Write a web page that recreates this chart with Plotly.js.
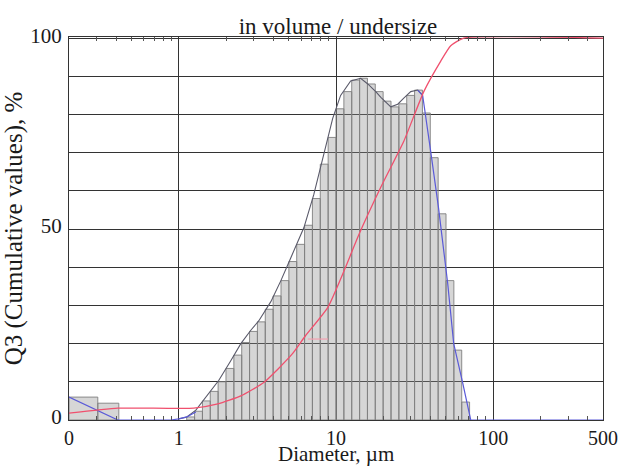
<!DOCTYPE html>
<html>
<head>
<meta charset="utf-8">
<script src="https://cdn.plot.ly/plotly-3.0.1.min.js"></script>
<style>html,body{margin:0;padding:0;background:#fff;}#chart{width:633px;height:468px;}</style>
</head>
<body>
<div id="chart"></div>
<script>
// Histogram bin edges (µm) and bar heights (%)
const binLow  = [0.2, 0.305, 1.122, 1.259, 1.413, 1.585, 1.778, 1.995, 2.239, 2.512, 2.818, 3.162, 3.548, 3.981, 4.467, 5.012, 5.623, 6.310, 7.079, 7.943, 8.913, 10.00, 11.22, 12.59, 14.13, 15.85, 17.78, 19.95, 22.39, 25.12, 28.18, 31.62, 35.48, 39.81, 44.67, 50.12, 56.23, 63.10];
const binHigh = [0.305, 0.415, 1.259, 1.413, 1.585, 1.778, 1.995, 2.239, 2.512, 2.818, 3.162, 3.548, 3.981, 4.467, 5.012, 5.623, 6.310, 7.079, 7.943, 8.913, 10.00, 11.22, 12.59, 14.13, 15.85, 17.78, 19.95, 22.39, 25.12, 28.18, 31.62, 35.48, 39.81, 44.67, 50.12, 56.23, 63.10, 70.79];
const binHeight = [6.0, 4.4, 0.8, 2.3, 5.0, 7.5, 10.0, 13.5, 17.0, 20.3, 23.2, 25.7, 29.0, 32.5, 36.5, 41.5, 46.0, 51.0, 58.0, 67.0, 74.0, 81.5, 86.0, 89.0, 89.5, 88.0, 86.0, 83.5, 82.0, 82.8, 85.0, 86.4, 80.4, 68.7, 54.0, 36.5, 18.3, 4.7];

// Density outline (gray part)
const grayX = [1.0, 1.124, 1.283, 1.485, 1.797, 2.14, 2.48, 2.87, 3.23, 3.85, 4.46, 5.16, 6.25, 7.22, 8.37, 9.53, 10.7, 12.4, 14.35, 15.93, 17.9, 19.3, 22.3, 24.7, 27.0, 29.9, 33.1, 35.6];
const grayY = [0.3, 0.8, 2.6, 6.0, 10.4, 15.5, 20.0, 23.5, 26.0, 31.0, 36.5, 42.5, 50.4, 59.0, 70.0, 79.0, 85.0, 88.8, 89.5, 88.0, 86.0, 84.5, 82.0, 82.7, 84.3, 86.0, 86.4, 85.0];

// Density outline (blue parts)
const blueLeftX = [0.2, 0.409, 0.889, 1.0, 1.124, 1.283];
const blueLeftY = [6.0, 0.0, 0.0, 0.3, 0.8, 2.1];
const blueRightX = [33.1, 35.6, 40.0, 44.9, 51.3, 56.1, 64.0, 72.0, 500];
const blueRightY = [86.4, 85.0, 70.5, 55.6, 36.0, 20.0, 9.7, 0.0, 0.0];

// Cumulative Q3 (red)
const cumX = [0.2, 0.409, 1.246, 1.77, 2.48, 3.47, 4.31, 5.27, 6.38, 8.87, 11.5, 13.97, 19.3, 27.0, 36.2, 46.4, 53.7, 65.0, 500];
const cumY = [1.8, 3.1, 3.1, 4.2, 6.3, 9.8, 13.5, 17.3, 22.0, 29.5, 40.0, 48.5, 61.0, 73.0, 86.0, 94.0, 98.0, 100.0, 100.0];

// small horizontal marker segment on red curve
const markX = [6.62, 8.9];
const markY = [21.2, 21.2];

const xTickVals = [0.2, 1, 10, 100, 500];
const xTickText = ['0', '1', '10', '100', '500'];
const xMinorVals = [0.3,0.4,0.5,0.6,0.7,0.8,0.9,2,3,4,5,6,7,8,9,20,30,40,50,60,70,80,90,200,300,400];
const yTickVals = [0,10,20,30,40,50,60,70,80,90,100];
const yTickText = ['0','','','','','50','','','','','100'];

// build bar polygons
const bx = [], by = [];
for (let i = 0; i < binLow.length; i++) {
  bx.push(binLow[i], binLow[i], binHigh[i], binHigh[i], binLow[i], null);
  by.push(0, binHeight[i], binHeight[i], 0, 0, null);
}

const traces = [
  {x: bx, y: by, type: 'scatter', mode: 'lines', fill: 'toself',
   fillcolor: 'rgba(140,140,140,0.36)', line: {color: '#808080', width: 0.9},
   connectgaps: false, hoverinfo: 'skip'},
  {x: grayX, y: grayY, type: 'scatter', mode: 'lines', line: {color: '#5a5a6a', width: 1.1}},
  {x: blueLeftX, y: blueLeftY, type: 'scatter', mode: 'lines', line: {color: '#5a5ad8', width: 1.2}},
  {x: blueRightX, y: blueRightY, type: 'scatter', mode: 'lines', line: {color: '#5a5ad8', width: 1.2}},
  {x: markX, y: markY, type: 'scatter', mode: 'lines', line: {color: '#f4a0b0', width: 1.2}},
  {x: cumX, y: cumY, type: 'scatter', mode: 'lines', line: {color: '#f0506e', width: 1.3, shape: 'spline', smoothing: 0.5}}
];

const serif = 'Liberation Serif, Times New Roman, serif';
const layout = {
  width: 633, height: 468,
  margin: {l: 69, r: 30, t: 37, b: 48},
  paper_bgcolor: '#fff', plot_bgcolor: '#fff',
  showlegend: false,
  font: {family: serif, size: 21, color: '#1a1a1a'},
  title: {text: 'in volume / undersize', font: {family: serif, size: 23, color: '#1a1a1a'},
          x: 0.534, xref: 'container', xanchor: 'center', y: 0.945, yref: 'container', yanchor: 'middle'},
  xaxis: {
    type: 'log', range: [Math.log10(0.2), Math.log10(500)],
    tickmode: 'array', tickvals: xTickVals, ticktext: xTickText,
    showgrid: true, gridcolor: '#333', gridwidth: 1,
    showline: true, linecolor: '#333', linewidth: 1, mirror: 'ticks',
    ticks: 'inside', ticklen: 0, tickcolor: '#333',
    minor: {tickmode: 'array', tickvals: xMinorVals, ticks: 'inside', ticklen: 4, tickcolor: '#555', tickwidth: 1, showgrid: false},
    zeroline: false, fixedrange: true,
    tickfont: {family: serif, size: 20, color: '#1a1a1a'}
  },
  yaxis: {
    range: [0, 100.3], tickmode: 'array', tickvals: yTickVals, ticktext: yTickText,
    showgrid: true, gridcolor: '#333', gridwidth: 1,
    showline: true, linecolor: '#333', linewidth: 1, mirror: true,
    ticks: '', zeroline: false, fixedrange: true,
    ticklabelshift: -3, ticklabelstandoff: 2,
    tickfont: {family: serif, size: 21, color: '#1a1a1a'},
    title: {text: 'Q3 (Cumulative values), %', font: {family: serif, size: 25, color: '#1a1a1a'}, standoff: 0}
  },
  annotations: [
    {text: 'Diameter, µm', xref: 'paper', yref: 'paper', x: 0.5, y: -0.1253, xanchor: 'center', yanchor: 'bottom',
     showarrow: false, font: {family: serif, size: 21, color: '#1a1a1a'}}
  ]
};

Plotly.newPlot('chart', traces, layout, {staticPlot: true});
</script>
</body>
</html>
